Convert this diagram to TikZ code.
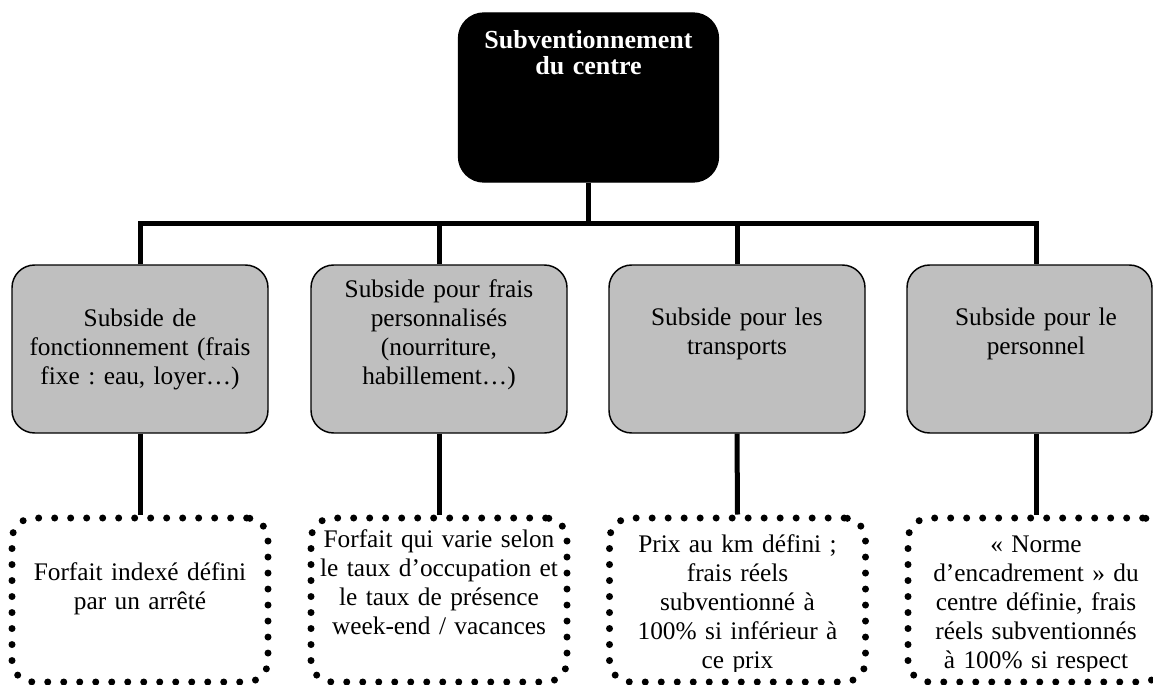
\documentclass[tikz,border=0pt]{standalone}
\usepackage{fontspec}
\setmainfont{Liberation Serif}
\frenchspacing
\definecolor{BoxGray}{RGB}{191,191,191}

\begin{document}
\begin{tikzpicture}[x=0.75pt,y=-0.75pt,
  conn/.style={line width=3.75pt},
  graybox/.style={draw,line width=1.1pt,fill=BoxGray,rounded corners=17pt,minimum width=192pt,minimum height=126pt,inner sep=0pt},
  dotbox/.style={draw,line width=5.25pt,line cap=round,dash pattern=on 0pt off 12pt,rounded corners=16pt,minimum width=192pt,minimum height=123pt,inner sep=0pt},
  boxtext/.style={anchor=base,align=center,text width=230pt,inner sep=0pt,font=\fontsize{19}{21.75}\selectfont}]
  \clip (0,0) rectangle (1153,685);
  % top of the tree
  \node[draw,fill=black,line width=1pt,rounded corners=19pt,minimum width=195pt,minimum height=126.75pt,inner sep=0pt] (subv) at (588.5,97.5) {};
  \node[boxtext,text=white,font=\fontsize{19.5}{19.5}\selectfont\bfseries] (subvtext) at (588.5,49) {Subventionnement\\du centre};

  % the four subsidies
  \node[graybox] (g1) at (140,349) {};
  \node[graybox] (g2) at (439,349) {};
  \node[graybox] (g3) at (737,349) {};
  \node[graybox,minimum width=183.75pt] (g4) at (1029.5,349) {};
  \node[boxtext] (t1) at (140,326) {Subside de\\fonctionnement (frais\\fixe : eau, loyer…)};
  \node[boxtext] (t2) at (439,297) {Subside pour frais\\personnalisés\\(nourriture,\\habillement…)};
  \node[boxtext] (t3) at (737,325) {Subside pour les\\transports};
  \node[boxtext] (t4) at (1036,325) {Subside pour le\\personnel};

  % how each one is computed
  \node[dotbox] (d1) at (140,600) {};
  \node[dotbox] (d2) at (439,600) {};
  \node[dotbox] (d3) at (737.5,600) {};
  \node[dotbox] (d4) at (1036,600) {};
  \begin{scope}
    \clip (0,0) rectangle (1153,671);
    \node[boxtext] (dt1) at (140,580) {Forfait indexé défini\\par un arrêté};
    \node[boxtext] (dt2) at (439,547) {Forfait qui varie selon\\le taux d’occupation et\\le taux de présence\\week-end / vacances};
    \node[boxtext] (dt3) at (737.5,552) {Prix au km défini ;\\frais réels\\subventionné à\\100\% si inférieur à\\ce prix};
    \node[boxtext] (dt4) at (1036,552) {« Norme\\d’encadrement » du\\centre définie, frais\\réels subventionnés\\à 100\% si respect};
  \end{scope}

  % connectors
  \coordinate (bus) at (588.5,223);
  \draw[conn] (subv.south) -- (bus);
  \draw[conn] (g1.north) |- (bus) -| (d4.north |- g4.north);
  \draw[conn] (g2.north) -- (g2.north |- bus);
  \draw[conn] (g3.north) -- (g3.north |- bus);
  \draw[conn] (g1.south) -- (d1.north);
  \draw[conn] (g2.south) -- (d2.north);
  \draw[conn] (g3.south) -- (d3.north);
  \draw[conn] (g4.south -| d4.north) -- (d4.north);
\end{tikzpicture}
\end{document}
